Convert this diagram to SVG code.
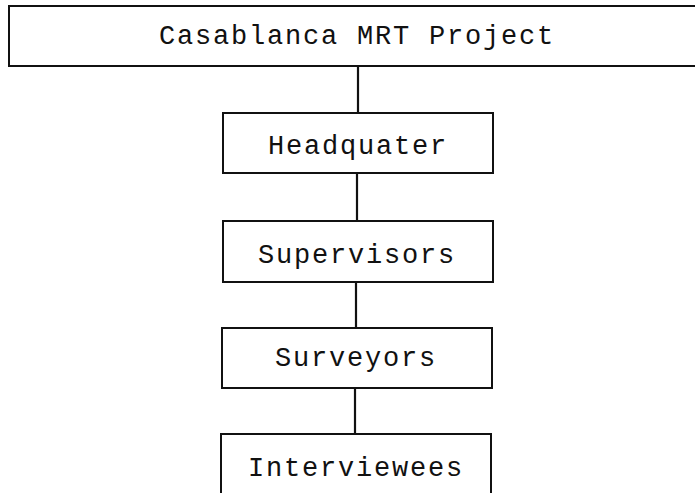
<svg xmlns="http://www.w3.org/2000/svg" width="695" height="493" viewBox="0 0 695 493">
<style>
.box{fill:#fff;stroke:#111;stroke-width:2}
.lbl{font-family:"Liberation Mono","DejaVu Sans Mono",monospace;font-size:27px;letter-spacing:1.8px;fill:#111;text-anchor:middle}
.con{stroke:#111;stroke-width:2.2;fill:none}
</style>
<rect width="695" height="493" fill="#fff"/>
<g id="connectors">
<line class="con" x1="358" y1="66" x2="358" y2="113"/>
<line class="con" x1="357" y1="173" x2="357" y2="221"/>
<line class="con" x1="356" y1="282" x2="356" y2="328"/>
<line class="con" x1="355" y1="388" x2="355" y2="434"/>
</g>
<g id="project">
<rect class="box" x="9" y="6" width="700" height="60"/>
<text class="lbl" x="357" y="44">Casablanca MRT Project</text>
</g>
<g id="headquater">
<rect class="box" x="223" y="113" width="270" height="60"/>
<text class="lbl" x="358" y="154">Headquater</text>
</g>
<g id="supervisors">
<rect class="box" x="223" y="221" width="270" height="61"/>
<text class="lbl" x="357" y="263">Supervisors</text>
</g>
<g id="surveyors">
<rect class="box" x="222" y="328" width="270" height="60"/>
<text class="lbl" x="356" y="366">Surveyors</text>
</g>
<g id="interviewees">
<rect class="box" x="221" y="434" width="270" height="70"/>
<text class="lbl" x="356" y="476">Interviewees</text>
</g>
</svg>
